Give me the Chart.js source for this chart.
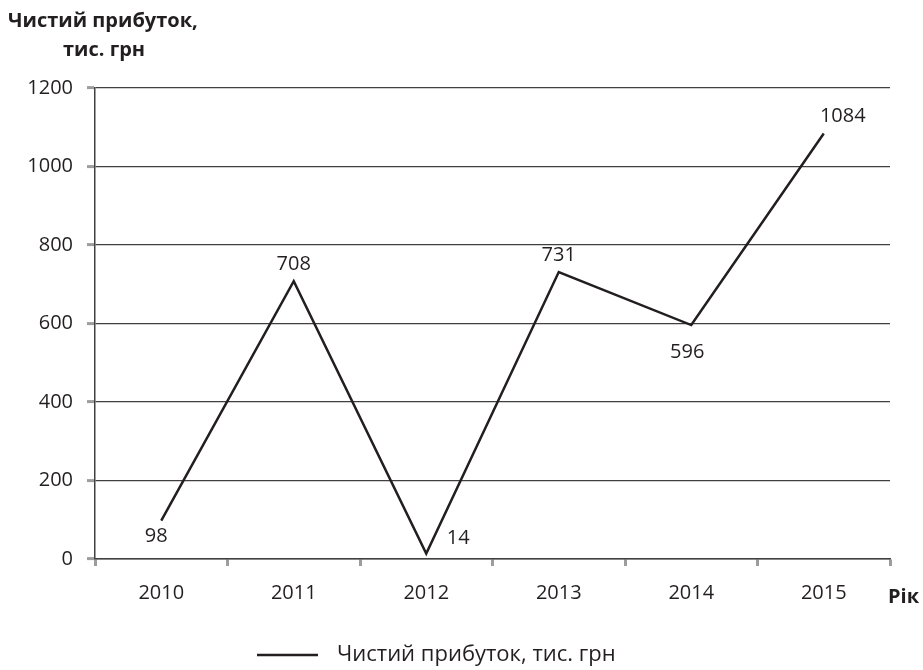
<!DOCTYPE html>
<html>
<head>
<meta charset="utf-8">
<script src="https://cdn.jsdelivr.net/npm/chart.js@4.4.1/dist/chart.umd.min.js"></script>
<style>
  html, body { margin: 0; padding: 0; background: #ffffff; }
  #wrap { width: 923px; height: 670px; position: relative; }
</style>
</head>
<body>
<div id="wrap"><canvas id="profit-chart"></canvas></div>
<script>
const years = ["2010", "2011", "2012", "2013", "2014", "2015"];
const netProfit = [98, 708, 14, 731, 596, 1084];
const yTicks = [0, 200, 400, 600, 800, 1000, 1200];
const seriesLabel = "Чистий прибуток, тис. грн";
const yTitleLines = ["Чистий прибуток,", "тис. грн"];
const xTitle = "Рік";

// where each value label sits relative to its point
const labelPlacement = ["belowLeft", "above", "right", "above", "below", "aboveRight"];

const textColor = "#231f20";
const fontFamily = "'Open Sans', 'DejaVu Sans', sans-serif";

const labelOffsets = {
  above: [0, -17],
  below: [-4, 27],
  belowLeft: [-5, 16],
  right: [32, -15],
  aboveRight: [19, -17]
};

const extraText = {
  id: "extraText",
  afterDatasetsDraw(chart) {
    const ctx = chart.ctx;
    const meta = chart.getDatasetMeta(0);
    const area = chart.chartArea;

    ctx.save();
    ctx.fillStyle = textColor;
    ctx.textAlign = "center";
    ctx.textBaseline = "middle";
    ctx.font = "20px " + fontFamily;

    meta.data.forEach((pt, i) => {
      const off = labelOffsets[labelPlacement[i]];
      ctx.fillText(String(netProfit[i]), pt.x + off[0], pt.y + off[1]);
    });

    // axis titles
    ctx.font = "bold 20px " + fontFamily;
    ctx.textAlign = "left";
    ctx.fillText(yTitleLines[0], 8, 21);
    ctx.fillText(yTitleLines[1], 63, 50);
    ctx.fillText(xTitle, area.right - 2, 597);

    // legend
    ctx.strokeStyle = textColor;
    ctx.lineWidth = 2.5;
    ctx.beginPath();
    ctx.moveTo(257, 655);
    ctx.lineTo(318, 655);
    ctx.stroke();
    ctx.font = "22px " + fontFamily;
    ctx.fillText(seriesLabel, 337, 655);
    ctx.restore();
  }
};

const canvas = document.getElementById("profit-chart");

new Chart(canvas, {
  type: "line",
  data: {
    labels: years,
    datasets: [
      {
        label: seriesLabel,
        data: netProfit,
        borderColor: textColor,
        backgroundColor: textColor,
        borderWidth: 2.5,
        tension: 0,
        pointRadius: 0
      }
    ]
  },
  options: {
    responsive: true,
    maintainAspectRatio: false,
    animation: false,
    layout: {
      padding: { left: 0, right: 33, top: 88, bottom: 61 }
    },
    scales: {
      x: {
        offset: true,
        grid: {
          display: true,
          drawOnChartArea: false,
          offset: true,
          tickLength: 7,
          tickColor: "#9d9d9d",
          tickWidth: 3
        },
        border: { color: "#404040", width: 1.5 },
        ticks: {
          color: textColor,
          padding: 15,
          font: { family: fontFamily, size: 20 }
        },
        afterFit: scale => { scale.height = 50; }
      },
      y: {
        min: yTicks[0],
        max: yTicks[yTicks.length - 1],
        afterBuildTicks: scale => {
          scale.ticks = yTicks.map(v => ({ value: v }));
        },
        ticks: {
          color: textColor,
          padding: 14,
          font: { family: fontFamily, size: 20 },
          callback: value => String(value)
        },
        grid: {
          color: "#404040",
          lineWidth: 1.2,
          tickLength: 8,
          tickColor: "#9d9d9d",
          tickWidth: 3
        },
        border: { color: "#404040", width: 1.5 },
        afterFit: scale => { scale.width = 95; }
      }
    },
    plugins: {
      legend: { display: false },
      tooltip: { enabled: false }
    }
  },
  plugins: [extraText]
});
</script>
</body>
</html>
